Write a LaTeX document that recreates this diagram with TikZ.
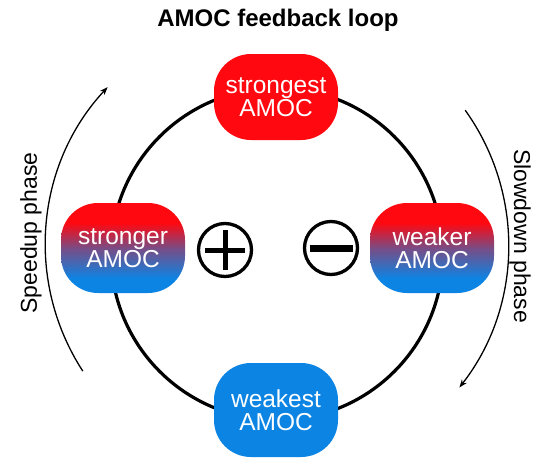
\documentclass[tikz,border=0pt]{standalone}
\usepackage{fontspec}
\setmainfont{Liberation Sans}
\usetikzlibrary{arrows.meta}
\definecolor{amocred}{RGB}{255,8,16}
\definecolor{amocblue}{RGB}{12,132,228}
\pgfdeclareverticalshading{amocgrad}{100bp}{color(0bp)=(amocblue); color(33bp)=(amocblue); color(50bp)=(amocblue!55!amocred); color(64bp)=(amocred); color(100bp)=(amocred)}
\begin{document}
\begin{tikzpicture}[x=1pt,y=-1pt,
  amoc/.style={rounded corners=37pt, minimum width=124pt, minimum height=90pt,
    inner sep=0pt, text=white, font=\fontsize{24.5}{23}\selectfont, align=center},
  mixed/.style={shading=amocgrad},
  sign/.style={draw, circle, line width=3.3pt, minimum size=53pt, inner sep=0pt},
  phasearrow/.style={line width=1.3pt, -{Stealth[length=8pt,width=6pt]}},
  phaselabel/.style={font=\fontsize{23}{24}\selectfont}]
\useasboundingbox (0,0) rectangle (550,464);
\fill[white] (0,0) rectangle (550,464);
% loop
\draw[line width=3.2pt] (277,254) circle[radius=166pt];
% title
\node[anchor=base, font=\bfseries\fontsize{24}{26}\selectfont] (title) at (278,26) {AMOC feedback loop};
% states
\node[amoc, fill=amocred, minimum height=86pt] (strongest) at (276,97) {strongest\\AMOC};
\node[amoc, mixed] (stronger) at (123,248) {stronger\\AMOC};
\node[amoc, mixed] (weaker) at (432,248) {weaker\\AMOC};
\node[amoc, fill=amocblue, minimum height=94pt] (weakest) at (276,410) {weakest\\AMOC};
% signs
\node[sign] (plus) at (225,250) {};
\draw[line width=5pt] ([xshift=-20pt]plus.center) -- ([xshift=20pt]plus.center);
\draw[line width=5pt] ([yshift=-20pt]plus.center) -- ([yshift=20pt]plus.center);
\node[sign] (minus) at (331,248) {};
\draw[line width=7pt] ([xshift=-21.5pt]minus.center) -- ([xshift=21.5pt]minus.center);
% phase arrows
\coordinate (lstart) at (82.8,371.1);
\draw[phasearrow] (lstart) arc[start angle=147, end angle=223, radius=231.5];
\coordinate (rstart) at (465.2,110.2);
\draw[phasearrow] (rstart) arc[start angle=-35.6, end angle=38, radius=231.5];
\node[phaselabel, rotate=90] (speedup) at (31,233) {Speedup phase};
\node[phaselabel, rotate=-90] (slowdown) at (520,236) {Slowdown phase};
\end{tikzpicture}
\end{document}
